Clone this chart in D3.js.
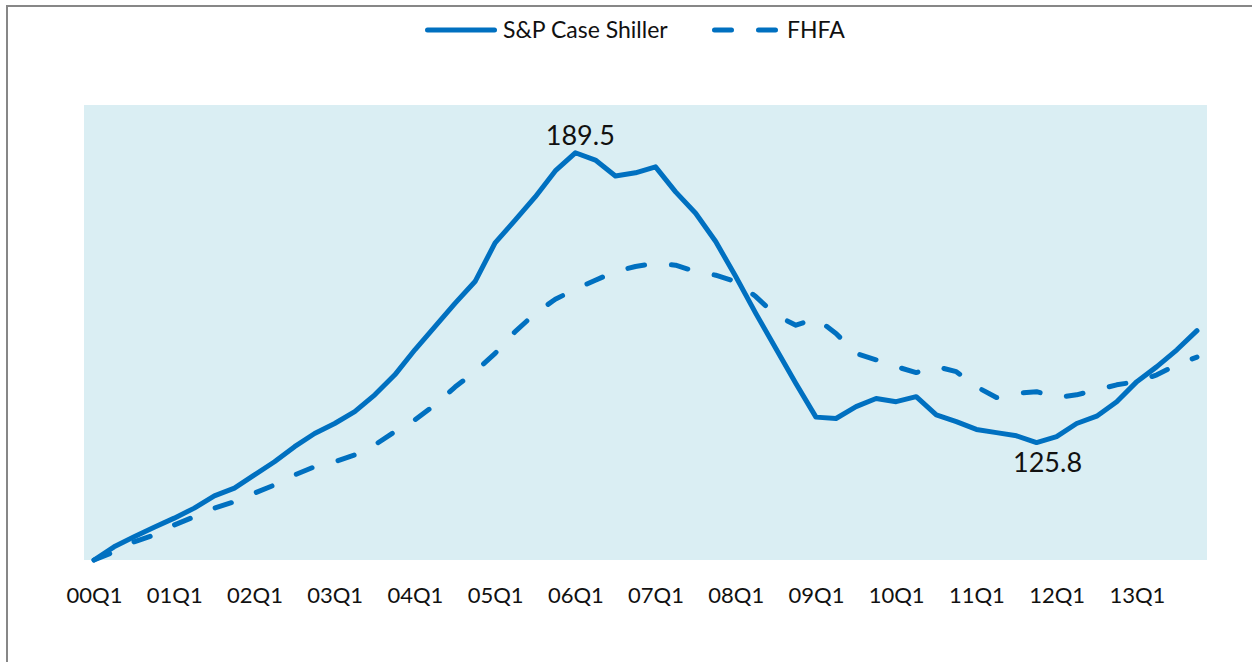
<!DOCTYPE html>
<html>
<head>
<meta charset="utf-8">
<script src="https://cdn.jsdelivr.net/npm/d3@7"></script>
<style>
	body { margin: 0; background: #fff; }
	text { font-family: Lato, "Open Sans", sans-serif; fill: #111; }
</style>
</head>
<body>
<div id="canvas"></div>
<script>
// quarters 00Q1 .. 13Q4
var quarters = [
	'00Q1','00Q2','00Q3','00Q4','01Q1','01Q2','01Q3','01Q4','02Q1','02Q2','02Q3','02Q4',
	'03Q1','03Q2','03Q3','03Q4','04Q1','04Q2','04Q3','04Q4','05Q1','05Q2','05Q3','05Q4',
	'06Q1','06Q2','06Q3','06Q4','07Q1','07Q2','07Q3','07Q4','08Q1','08Q2','08Q3','08Q4',
	'09Q1','09Q2','09Q3','09Q4','10Q1','10Q2','10Q3','10Q4','11Q1','11Q2','11Q3','11Q4',
	'12Q1','12Q2','12Q3','12Q4','13Q1','13Q2','13Q3','13Q4'
];
var tickLabels = ['00Q1','01Q1','02Q1','03Q1','04Q1','05Q1','06Q1','07Q1','08Q1','09Q1','10Q1','11Q1','12Q1','13Q1'];

var caseShiller = [100, 102.9, 105.1, 107.2, 109.2, 111.4, 114.1, 115.8, 118.7, 121.6, 124.9, 127.8,
	130.0, 132.6, 136.3, 140.7, 146.2, 151.3, 156.4, 161.2, 169.7, 174.7, 179.8, 185.5,
	189.5, 187.9, 184.4, 185.1, 186.4, 180.9, 176.2, 170.0, 162.3, 154.2, 146.5, 138.8,
	131.4, 131.1, 133.7, 135.5, 134.8, 135.9, 131.9, 130.4, 128.7, 128.0, 127.3, 125.8,
	127.1, 130.0, 131.6, 134.8, 139.2, 142.5, 146.2, 150.4];
var fhfa = [100, 101.8, 104.0, 105.5, 107.7, 109.5, 111.4, 112.8, 114.7, 116.5, 118.7, 120.5,
	121.6, 123.1, 125.3, 128.2, 130.8, 134.1, 138.0, 141.4, 145.4, 150.2, 154.2, 157.3,
	159.5, 161.5, 163.4, 164.5, 165.2, 164.8, 163.4, 162.6, 161.2, 157.9, 153.8, 151.6,
	153.1, 149.8, 145.4, 144.0, 142.5, 141.2, 142.5, 141.4, 138.1, 135.7, 136.6, 137.0,
	135.7, 136.3, 137.4, 138.5, 139.2, 140.7, 142.9, 144.6];

var seriesNames = ['S&P Case Shiller', 'FHFA'];
var yDomain = [100, 200];

var blue = '#0070C0';

var svg = d3.select('#canvas').append('svg')
	.attr('width', 1252)
	.attr('height', 662);

// chart frame (runs off right / bottom)
svg.append('rect')
	.attr('x', 7).attr('y', 6)
	.attr('width', 1300).attr('height', 700)
	.attr('fill', '#fff')
	.attr('stroke', '#878787')
	.attr('stroke-width', 2);

var plot = { left: 84, right: 1207, top: 105, bottom: 560 };

var x = d3.scalePoint()
	.domain(quarters)
	.range([plot.left, plot.right])
	.padding(0.5);

var y = d3.scaleLinear()
	.domain(yDomain)
	.range([plot.bottom, plot.top]);

// plot area background
svg.append('rect')
	.attr('x', plot.left).attr('y', plot.top)
	.attr('width', plot.right - plot.left)
	.attr('height', plot.bottom - plot.top)
	.attr('fill', '#DAEEF3');

// x axis labels only
var xAxis = svg.append('g')
	.attr('transform', 'translate(0,' + plot.bottom + ')')
	.call(d3.axisBottom(x).tickValues(tickLabels).tickSize(0));
xAxis.select('.domain').remove();
xAxis.selectAll('text')
	.attr('y', 43)
	.attr('dy', null)
	.style('font-size', '22px')
	.style('font-family', 'Lato, sans-serif')
	.attr('fill', '#111');

var line = d3.line()
	.x(function (d, i) { return x(quarters[i]); })
	.y(function (d) { return y(d); });

var series = [
	{ name: seriesNames[0], values: caseShiller, dash: null },
	{ name: seriesNames[1], values: fhfa, dash: '17 27' }
];

// draw dashed first so solid sits on top
svg.selectAll('path.series').data(series.slice().reverse())
	.enter().append('path')
	.attr('class', 'series')
	.attr('d', function (d) { return line(d.values); })
	.attr('fill', 'none')
	.attr('stroke', blue)
	.attr('stroke-width', 5)
	.attr('stroke-linejoin', 'round')
	.attr('stroke-linecap', 'round')
	.attr('stroke-dasharray', function (d) { return d.dash; });

// peak and trough labels
var peakIdx = caseShiller.indexOf(d3.max(caseShiller));
var troughIdx = caseShiller.indexOf(d3.min(caseShiller.slice(36)));
var notes = [
	{ i: peakIdx, dx: 5, dy: -8 },
	{ i: troughIdx, dx: 11, dy: 29 }
];
svg.selectAll('text.note').data(notes)
	.enter().append('text')
	.attr('class', 'note')
	.attr('x', function (d) { return x(quarters[d.i]) + d.dx; })
	.attr('y', function (d) { return y(caseShiller[d.i]) + d.dy; })
	.attr('text-anchor', 'middle')
	.style('font-size', '27px')
	.text(function (d) { return caseShiller[d.i].toFixed(1); });

// legend
var legendX = [425, 712];
var legend = svg.selectAll('g.legend').data(series)
	.enter().append('g')
	.attr('class', 'legend')
	.attr('transform', function (d, i) { return 'translate(' + legendX[i] + ',30)'; });
legend.append('line')
	.attr('x1', 2.5)
	.attr('x2', function (d) { return d.dash ? 65.5 : 69.5; })
	.attr('stroke', blue)
	.attr('stroke-width', 5)
	.attr('stroke-linecap', 'round')
	.attr('stroke-dasharray', function (d) { return d.dash; });
legend.append('text')
	.attr('x', function (d) { return d.dash ? 75 : 78; })
	.attr('y', 8)
	.style('font-size', '23px')
	.text(function (d) { return d.name; });
</script>
</body>
</html>
